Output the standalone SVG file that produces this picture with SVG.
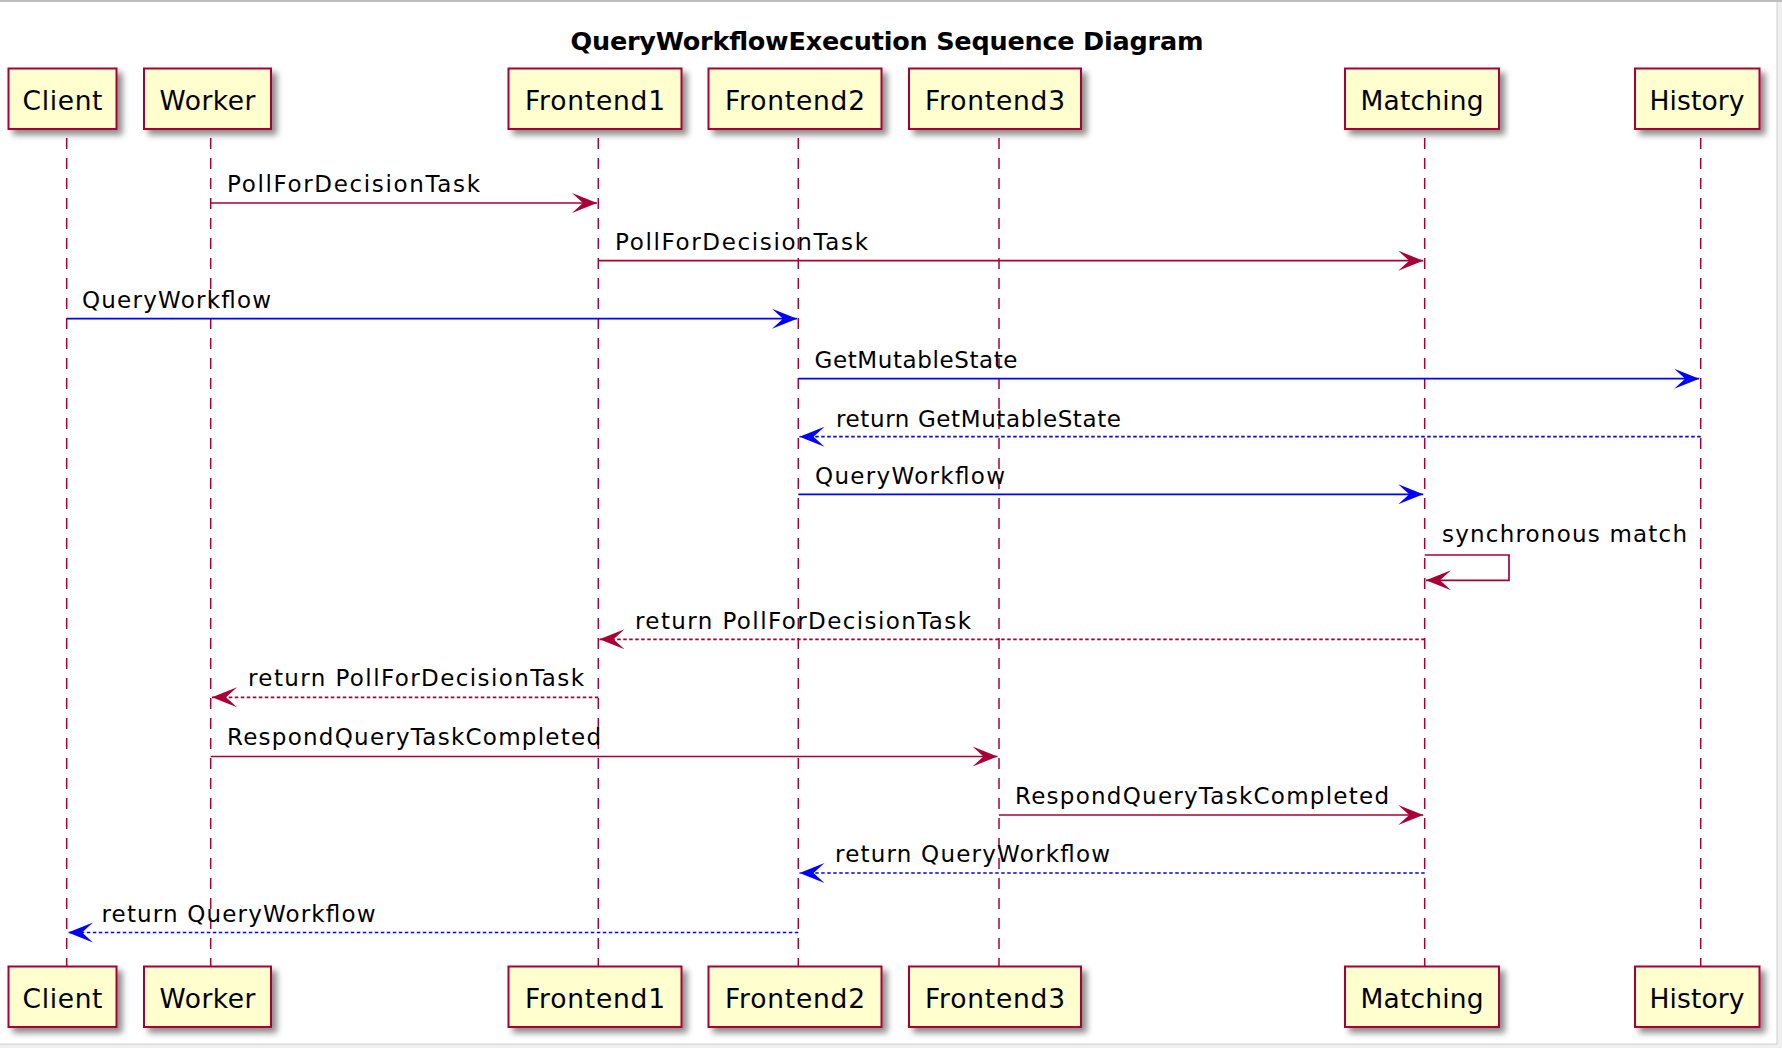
<svg xmlns="http://www.w3.org/2000/svg" width="1782" height="1048" viewBox="0 0 1782 1048">
<style>
.box{fill:#FEFECE;stroke:#A80036;stroke-width:2;}
.lbl{font-family:"DejaVu Sans","Liberation Sans",sans-serif;font-size:26.5px;fill:#000;text-anchor:middle;}
.msg{font-family:"DejaVu Sans","Liberation Sans",sans-serif;font-size:23px;fill:#000;}
.title{font-family:"DejaVu Sans","Liberation Sans",sans-serif;font-size:25.5px;font-weight:bold;fill:#000;text-anchor:middle;}
.life{stroke:#A80036;stroke-width:1.5;stroke-dasharray:11,9;fill:none;}
.red{stroke:#A80036;stroke-width:1.7;fill:none;marker-end:url(#ahRed);}
.blue{stroke:#0000FF;stroke-width:1.7;fill:none;marker-end:url(#ahBlue);}
.dot{stroke-dasharray:3.5,2.5;}
</style>
<defs>
<filter id="sh" x="-15%" y="-15%" width="140%" height="150%">
<feGaussianBlur in="SourceAlpha" stdDeviation="3"/>
<feOffset dx="5" dy="5" result="o"/>
<feComponentTransfer><feFuncA type="linear" slope="0.45"/></feComponentTransfer>
<feMerge><feMergeNode/><feMergeNode in="SourceGraphic"/></feMerge>
</filter>
<marker id="ahRed" markerUnits="userSpaceOnUse" viewBox="-26 -11 27 22" refX="0" refY="0" markerWidth="27" markerHeight="22" orient="auto">
<path d="M0,0 L-25,-10 L-14,0 L-25,10 Z" fill="#A80036"/>
</marker>
<marker id="ahBlue" markerUnits="userSpaceOnUse" viewBox="-26 -11 27 22" refX="0" refY="0" markerWidth="27" markerHeight="22" orient="auto">
<path d="M0,0 L-25,-10 L-14,0 L-25,10 Z" fill="#0000FF"/>
</marker>
</defs>
<rect x="0" y="0" width="1782" height="1048" fill="#FFFFFF"/>
<g id="frame">
<line x1="0" y1="1" x2="1782" y2="1" stroke="#BDBDBD" stroke-width="2"/>
<rect x="1777" y="2" width="5" height="1046" fill="#EFEFEF"/>
<line x1="1777" y1="2" x2="1777" y2="1044" stroke="#D0D0D0" stroke-width="1"/>
<rect x="0" y="1044" width="1782" height="4" fill="#EFEFEF"/>
<line x1="0" y1="1044" x2="1777" y2="1044" stroke="#D0D0D0" stroke-width="1"/>
</g>
<text class="title" x="887" y="49.5" textLength="633" lengthAdjust="spacing">QueryWorkflowExecution Sequence Diagram</text>
<g id="lifelines">
<line class="life" x1="66.7" y1="138" x2="66.7" y2="966"/>
<line class="life" x1="210.7" y1="138" x2="210.7" y2="966"/>
<line class="life" x1="598.3" y1="138" x2="598.3" y2="966"/>
<line class="life" x1="798.3" y1="138" x2="798.3" y2="966"/>
<line class="life" x1="999" y1="138" x2="999" y2="966"/>
<line class="life" x1="1424.7" y1="138" x2="1424.7" y2="966"/>
<line class="life" x1="1700.7" y1="138" x2="1700.7" y2="966"/>
</g>
<g id="Client">
<rect class="box" x="8.5" y="68.5" width="108" height="60.5" filter="url(#sh)"/>
<text class="lbl" x="62.5" y="109.5" textLength="80" lengthAdjust="spacing">Client</text>
<rect class="box" x="8.5" y="966.5" width="108" height="60.5" filter="url(#sh)"/>
<text class="lbl" x="62.5" y="1007.5" textLength="80" lengthAdjust="spacing">Client</text>
</g>
<g id="Worker">
<rect class="box" x="144" y="68.5" width="127" height="60.5" filter="url(#sh)"/>
<text class="lbl" x="207.5" y="109.5" textLength="96" lengthAdjust="spacing">Worker</text>
<rect class="box" x="144" y="966.5" width="127" height="60.5" filter="url(#sh)"/>
<text class="lbl" x="207.5" y="1007.5" textLength="96" lengthAdjust="spacing">Worker</text>
</g>
<g id="Frontend1">
<rect class="box" x="508.5" y="68.5" width="173" height="60.5" filter="url(#sh)"/>
<text class="lbl" x="595" y="109.5" textLength="140" lengthAdjust="spacing">Frontend1</text>
<rect class="box" x="508.5" y="966.5" width="173" height="60.5" filter="url(#sh)"/>
<text class="lbl" x="595" y="1007.5" textLength="140" lengthAdjust="spacing">Frontend1</text>
</g>
<g id="Frontend2">
<rect class="box" x="708.5" y="68.5" width="173" height="60.5" filter="url(#sh)"/>
<text class="lbl" x="795" y="109.5" textLength="140" lengthAdjust="spacing">Frontend2</text>
<rect class="box" x="708.5" y="966.5" width="173" height="60.5" filter="url(#sh)"/>
<text class="lbl" x="795" y="1007.5" textLength="140" lengthAdjust="spacing">Frontend2</text>
</g>
<g id="Frontend3">
<rect class="box" x="909" y="68.5" width="172" height="60.5" filter="url(#sh)"/>
<text class="lbl" x="995" y="109.5" textLength="140" lengthAdjust="spacing">Frontend3</text>
<rect class="box" x="909" y="966.5" width="172" height="60.5" filter="url(#sh)"/>
<text class="lbl" x="995" y="1007.5" textLength="140" lengthAdjust="spacing">Frontend3</text>
</g>
<g id="Matching">
<rect class="box" x="1345" y="68.5" width="154" height="60.5" filter="url(#sh)"/>
<text class="lbl" x="1422" y="109.5" textLength="123" lengthAdjust="spacing">Matching</text>
<rect class="box" x="1345" y="966.5" width="154" height="60.5" filter="url(#sh)"/>
<text class="lbl" x="1422" y="1007.5" textLength="123" lengthAdjust="spacing">Matching</text>
</g>
<g id="History">
<rect class="box" x="1635" y="68.5" width="124.5" height="60.5" filter="url(#sh)"/>
<text class="lbl" x="1697" y="109.5" textLength="95" lengthAdjust="spacing">History</text>
<rect class="box" x="1635" y="966.5" width="124.5" height="60.5" filter="url(#sh)"/>
<text class="lbl" x="1697" y="1007.5" textLength="95" lengthAdjust="spacing">History</text>
</g>
<g id="connectors">
<line class="red" x1="210.7" y1="203" x2="597" y2="203"/>
<text class="msg" x="227" y="192" textLength="253" lengthAdjust="spacing">PollForDecisionTask</text>
<line class="red" x1="598.3" y1="260.7" x2="1423.2" y2="260.7"/>
<text class="msg" x="615" y="250" textLength="253" lengthAdjust="spacing">PollForDecisionTask</text>
<line class="blue" x1="66.7" y1="318.7" x2="797" y2="318.7"/>
<text class="msg" x="82" y="308" textLength="189" lengthAdjust="spacing">QueryWorkflow</text>
<line class="blue" x1="798.3" y1="378.7" x2="1699.2" y2="378.7"/>
<text class="msg" x="814.5" y="368" textLength="203" lengthAdjust="spacing">GetMutableState</text>
<line class="blue dot" x1="1700.7" y1="436.7" x2="799.5" y2="436.7"/>
<text class="msg" x="836" y="426.5" textLength="285" lengthAdjust="spacing">return GetMutableState</text>
<line class="blue" x1="798.3" y1="494.3" x2="1423.2" y2="494.3"/>
<text class="msg" x="815" y="484" textLength="190" lengthAdjust="spacing">QueryWorkflow</text>
<path class="red" d="M1424.7,555 L1509,555 L1509,580.3 L1426,580.3"/>
<text class="msg" x="1442" y="542" textLength="245" lengthAdjust="spacing">synchronous match</text>
<line class="red dot" x1="1424.7" y1="639.3" x2="599.5" y2="639.3"/>
<text class="msg" x="635" y="628.5" textLength="336" lengthAdjust="spacing">return PollForDecisionTask</text>
<line class="red dot" x1="598.3" y1="697.3" x2="212" y2="697.3"/>
<text class="msg" x="248" y="686" textLength="336" lengthAdjust="spacing">return PollForDecisionTask</text>
<line class="red" x1="210.7" y1="756.5" x2="997.5" y2="756.5"/>
<text class="msg" x="227" y="744.5" textLength="374" lengthAdjust="spacing">RespondQueryTaskCompleted</text>
<line class="red" x1="999" y1="815" x2="1423.2" y2="815"/>
<text class="msg" x="1015" y="803.5" textLength="374" lengthAdjust="spacing">RespondQueryTaskCompleted</text>
<line class="blue dot" x1="1424.7" y1="873" x2="799.5" y2="873"/>
<text class="msg" x="835" y="862" textLength="275" lengthAdjust="spacing">return QueryWorkflow</text>
<line class="blue dot" x1="798.3" y1="932.5" x2="68" y2="932.5"/>
<text class="msg" x="101.5" y="921.5" textLength="274" lengthAdjust="spacing">return QueryWorkflow</text>
</g>
</svg>
